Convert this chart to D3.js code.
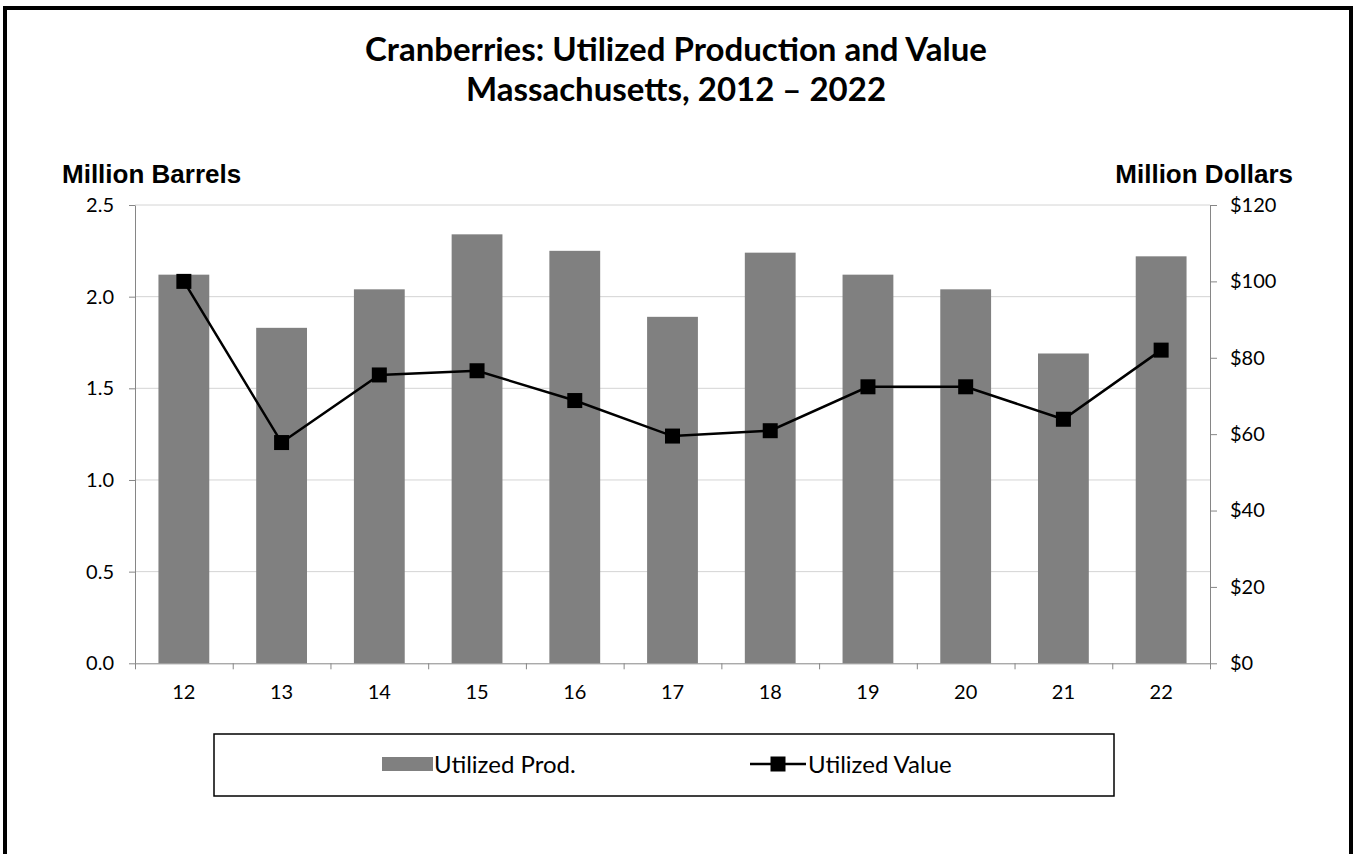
<!DOCTYPE html>
<html>
<head>
<meta charset="utf-8">
<script src="https://cdn.jsdelivr.net/npm/d3@7"></script>
<style>
  body { margin: 0; background: #fff; }
  svg { display: block; }
</style>
</head>
<body>
<svg id="chart" width="1353" height="854"></svg>
<script>
// Data
let years = ["12", "13", "14", "15", "16", "17", "18", "19", "20", "21", "22"]
let prod = [2.12, 1.83, 2.04, 2.34, 2.25, 1.89, 2.24, 2.12, 2.04, 1.69, 2.22]   // million barrels
let value = [100, 57.8, 75.5, 76.6, 68.8, 59.5, 60.9, 72.4, 72.4, 63.9, 82.0]  // million dollars
let leftTicks = [0, 0.5, 1, 1.5, 2, 2.5]
let rightTicks = [0, 20, 40, 60, 80, 100, 120]

let titleLines = ["Cranberries: Utilized Production and Value", "Massachusetts, 2012 \u2013 2022"]

// Layout
let plot = {left: 135, right: 1210, top: 205, bottom: 663.3}
let calibri = "Lato, 'Open Sans', sans-serif"
let arial = "'Liberation Sans', Arial, sans-serif"
let axisGrey = "#868686"

let svg = d3.select("#chart")

// outer frame (runs off the bottom of the picture)
svg.append("rect")
  .attr("x", 5).attr("y", 8)
  .attr("width", 1346).attr("height", 900)
  .attr("fill", "#fff").attr("stroke", "#000").attr("stroke-width", 4)

// Scales
let x = d3.scaleBand().domain(years).range([plot.left, plot.right]).paddingInner(0.48).paddingOuter(0.24)
let xEdge = d3.scaleLinear().domain([0, years.length]).range([plot.left, plot.right])
let yL = d3.scaleLinear().domain([0, 2.5]).range([plot.bottom, plot.top])
let yR = d3.scaleLinear().domain([0, 120]).range([plot.bottom, plot.top])

// gridlines
svg.append("g").selectAll("line").data(leftTicks.filter(d => d > 0)).join("line")
  .attr("x1", plot.left).attr("x2", plot.right)
  .attr("y1", d => yL(d)).attr("y2", d => yL(d))
  .attr("stroke", "#d4d4d4").attr("stroke-width", 1)

// bars
svg.append("g").selectAll("rect").data(years).join("rect")
  .attr("x", d => x(d))
  .attr("width", x.bandwidth())
  .attr("y", (d, i) => yL(prod[i]))
  .attr("height", (d, i) => yL(0) - yL(prod[i]))
  .attr("fill", "#808080")

// axes
let styleAxis = (g, size) => {
  g.select(".domain").attr("stroke", axisGrey)
  g.selectAll(".tick line").attr("stroke", axisGrey)
  g.selectAll("text").attr("font-family", calibri).attr("font-size", size).attr("fill", "#000")
}

svg.append("g")
  .attr("transform", `translate(${plot.left},0)`)
  .call(d3.axisLeft(yL).tickValues(leftTicks).tickFormat(d3.format(".1f")).tickSizeInner(6).tickSizeOuter(0).tickPadding(15))
  .call(g => styleAxis(g, 20))

svg.append("g")
  .attr("transform", `translate(${plot.right},0)`)
  .call(d3.axisRight(yR).tickValues(rightTicks).tickFormat(d => "$" + d).tickSizeInner(7).tickSizeOuter(0).tickPadding(13))
  .call(g => styleAxis(g, 20))

// x axis: tick marks on category boundaries, labels at centres
svg.append("g")
  .attr("transform", `translate(0,${plot.bottom})`)
  .call(d3.axisBottom(xEdge).tickValues(d3.range(years.length + 1)).tickFormat("").tickSizeInner(6).tickSizeOuter(0))
  .call(g => styleAxis(g, 20))

svg.append("g")
  .attr("transform", `translate(0,${plot.bottom})`)
  .call(d3.axisBottom(x).tickSize(0).tickPadding(22))
  .call(g => styleAxis(g, 20))
  .call(g => g.select(".domain").remove())

// value line
let line = d3.line()
  .x((d, i) => x(years[i]) + x.bandwidth() / 2)
  .y(d => yR(d))

svg.append("path")
  .datum(value)
  .attr("d", line)
  .attr("fill", "none")
  .attr("stroke", "#000")
  .attr("stroke-width", 2.5)

let mk = 15
svg.append("g").selectAll("rect").data(value).join("rect")
  .attr("x", (d, i) => x(years[i]) + x.bandwidth() / 2 - mk / 2)
  .attr("y", d => yR(d) - mk / 2)
  .attr("width", mk).attr("height", mk)
  .attr("fill", "#000")

// titles
svg.append("g").selectAll("text").data(titleLines).join("text")
  .attr("x", 676)
  .attr("y", (d, i) => 61 + i * 40)
  .attr("text-anchor", "middle")
  .attr("font-family", calibri)
  .attr("font-weight", "bold")
  .attr("font-size", 33)
  .text(d => d)

svg.append("text")
  .attr("x", 62).attr("y", 183)
  .attr("font-family", arial).attr("font-weight", "bold").attr("font-size", 26)
  .text("Million Barrels")

svg.append("text")
  .attr("x", 1293).attr("y", 183)
  .attr("text-anchor", "end")
  .attr("font-family", arial).attr("font-weight", "bold").attr("font-size", 26)
  .text("Million Dollars")

// legend
let legend = svg.append("g")
legend.append("rect")
  .attr("x", 214).attr("y", 734)
  .attr("width", 900).attr("height", 62)
  .attr("fill", "#fff").attr("stroke", "#000").attr("stroke-width", 1.5)

legend.append("rect")
  .attr("x", 382).attr("y", 757).attr("width", 51).attr("height", 14)
  .attr("fill", "#808080")
legend.append("text")
  .attr("x", 434).attr("y", 773)
  .attr("font-family", calibri).attr("font-size", 24)
  .text("Utilized Prod.")

legend.append("line")
  .attr("x1", 750).attr("x2", 806).attr("y1", 764).attr("y2", 764)
  .attr("stroke", "#000").attr("stroke-width", 2.5)
legend.append("rect")
  .attr("x", 778 - mk / 2).attr("y", 764 - mk / 2).attr("width", mk).attr("height", mk)
  .attr("fill", "#000")
legend.append("text")
  .attr("x", 808).attr("y", 773)
  .attr("font-family", calibri).attr("font-size", 24)
  .text("Utilized Value")
</script>
</body>
</html>
